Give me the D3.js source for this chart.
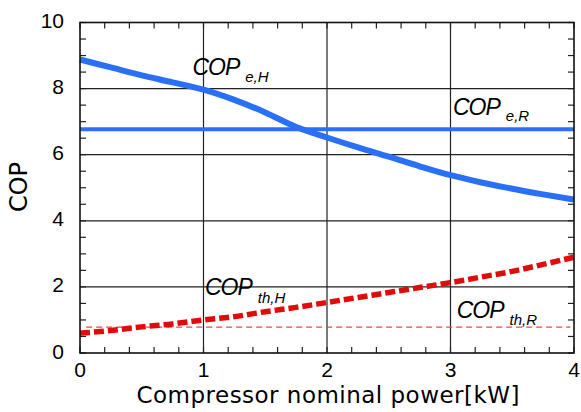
<!DOCTYPE html>
<html>
<head>
<meta charset="utf-8">
<script src="https://cdn.jsdelivr.net/npm/d3@7"></script>
<style>
  body { margin: 0; background: #fff; }
</style>
</head>
<body>
<div id="chart"></div>
<script>
// data
const power = [0, 0.25, 0.5, 0.75, 1, 1.25, 1.5, 1.75, 2, 2.25, 2.5, 2.75, 3, 3.25, 3.5, 3.75, 4];
const copEH = [8.88, 8.64, 8.4, 8.19, 7.97, 7.66, 7.28, 6.84, 6.52, 6.22, 5.94, 5.65, 5.38, 5.16, 4.97, 4.8, 4.64];
const copThH = [0.6, 0.68, 0.79, 0.88, 1.0, 1.1, 1.25, 1.38, 1.53, 1.68, 1.83, 1.98, 2.13, 2.3, 2.47, 2.68, 2.9];
const copER = 6.77;
const copThR = 0.78;
const xTicks = [0, 1, 2, 3, 4];
const yTicks = [0, 2, 4, 6, 8, 10];
const labelMain = ["COP", "COP", "COP", "COP"];
const labelSub = ["e,H", "e,R", "th,H", "th,R"];

// set the dimensions
const width = 581, height = 412;
const margin = {top: 22.5, right: 7, bottom: 59, left: 80};

const svg = d3.select("#chart")
  .append("svg")
    .attr("width", width)
    .attr("height", height);

const x = d3.scaleLinear().domain([0, 4]).range([margin.left, width - margin.right]);
const y = d3.scaleLinear().domain([0, 10]).range([height - margin.bottom, margin.top]);

// grid lines
svg.append("g")
  .selectAll("line")
  .data([1, 2, 3])
  .join("line")
    .attr("x1", d => x(d)).attr("x2", d => x(d))
    .attr("y1", y(0)).attr("y2", y(10))
    .attr("stroke", "#222").attr("stroke-width", 1.2);
svg.append("g")
  .selectAll("line")
  .data([2, 4, 6, 8])
  .join("line")
    .attr("x1", x(0)).attr("x2", x(4))
    .attr("y1", d => y(d)).attr("y2", d => y(d))
    .attr("stroke", "#222").attr("stroke-width", 1.2);

// minor ticks pointing inward on all four sides
const xMinor = d3.range(0, 4.001, 0.2);
const yMinor = d3.range(0, 10.001, 0.5);
const tickLen = 6;
const tk = svg.append("g").attr("stroke", "#222").attr("stroke-width", 1.2);
tk.selectAll(".xb").data(xMinor).join("line")
  .attr("x1", d => x(d)).attr("x2", d => x(d))
  .attr("y1", y(0)).attr("y2", y(0) - tickLen);
tk.selectAll(".xt").data(xMinor).join("line")
  .attr("x1", d => x(d)).attr("x2", d => x(d))
  .attr("y1", y(10)).attr("y2", y(10) + tickLen);
tk.selectAll(".yl").data(yMinor).join("line")
  .attr("x1", x(0)).attr("x2", x(0) + tickLen)
  .attr("y1", d => y(d)).attr("y2", d => y(d));
tk.selectAll(".yr").data(yMinor).join("line")
  .attr("x1", x(4)).attr("x2", x(4) - tickLen)
  .attr("y1", d => y(d)).attr("y2", d => y(d));

// COP th,R thin dashed
svg.append("line")
  .attr("x1", x(0.05)).attr("x2", x(3.97))
  .attr("y1", y(copThR)).attr("y2", y(copThR))
  .attr("stroke", "#e8484a").attr("stroke-width", 1.3)
  .attr("stroke-dasharray", "6,4");

// COP e,R flat line
svg.append("line")
  .attr("x1", x(0)).attr("x2", x(4))
  .attr("y1", y(copER)).attr("y2", y(copER))
  .attr("stroke", "#2a70f6").attr("stroke-width", 4);

const line = d3.line()
  .x((d, i) => x(power[i]))
  .y(d => y(d))
  .curve(d3.curveMonotoneX);

// COP e,H
svg.append("path")
  .datum(copEH)
  .attr("fill", "none")
  .attr("stroke", "#2a70f6")
  .attr("stroke-width", 6)
  .attr("d", line);

// COP th,H thick dashed
svg.append("path")
  .datum(copThH)
  .attr("fill", "none")
  .attr("stroke", "#e00b0b")
  .attr("stroke-width", 5.5)
  .attr("stroke-dasharray", "10,4")
  .attr("d", line);

// frame
svg.append("rect")
  .attr("x", x(0)).attr("y", y(10))
  .attr("width", x(4) - x(0)).attr("height", y(0) - y(10))
  .attr("fill", "none").attr("stroke", "#111").attr("stroke-width", 1.6);

// tick labels
svg.append("g")
  .attr("font-family", "Liberation Sans, Arial, sans-serif")
  .attr("font-size", 21)
  .attr("text-anchor", "end")
  .selectAll("text")
  .data(yTicks)
  .join("text")
    .attr("x", x(0) - 16)
    .attr("y", d => y(d) - 2)
    .attr("dy", "0.36em")
    .text(d => d);
svg.append("g")
  .attr("font-family", "Liberation Sans, Arial, sans-serif")
  .attr("font-size", 21)
  .attr("text-anchor", "middle")
  .selectAll("text")
  .data(xTicks)
  .join("text")
    .attr("x", d => x(d))
    .attr("y", y(0) + 24)
    .text(d => d);

// axis titles
svg.append("text")
  .attr("x", (x(0) + x(4)) / 2 + 1)
  .attr("y", 403)
  .attr("text-anchor", "middle")
  .attr("font-family", "DejaVu Sans, sans-serif")
  .attr("font-size", 23)
  .attr("textLength", 383)
  .text("Compressor nominal power[kW]");
svg.append("text")
  .attr("transform", "translate(27,187) rotate(-90)")
  .attr("text-anchor", "middle")
  .attr("font-family", "DejaVu Sans, sans-serif")
  .attr("font-size", 24)
  .text("COP");

// curve labels
const labelPos = [[0.91, 8.42], [3.02, 7.21], [1.012, 1.76], [3.05, 1.06]];
const labelSubDy = [7.5, 6, 7.7, 7];
const lab = svg.append("g")
  .attr("font-family", "Liberation Sans, Arial, sans-serif")
  .attr("font-style", "italic")
  .selectAll("text")
  .data(labelMain)
  .join("text")
    .attr("x", (d, i) => x(labelPos[i][0]))
    .attr("y", (d, i) => y(labelPos[i][1]));
lab.append("tspan")
  .attr("font-size", 23)
  .attr("letter-spacing", -1)
  .text(d => d);
lab.append("tspan")
  .attr("font-size", 15)
  .attr("dx", 6)
  .attr("dy", (d, i) => labelSubDy[i])
  .text((d, i) => labelSub[i]);
</script>
</body>
</html>
